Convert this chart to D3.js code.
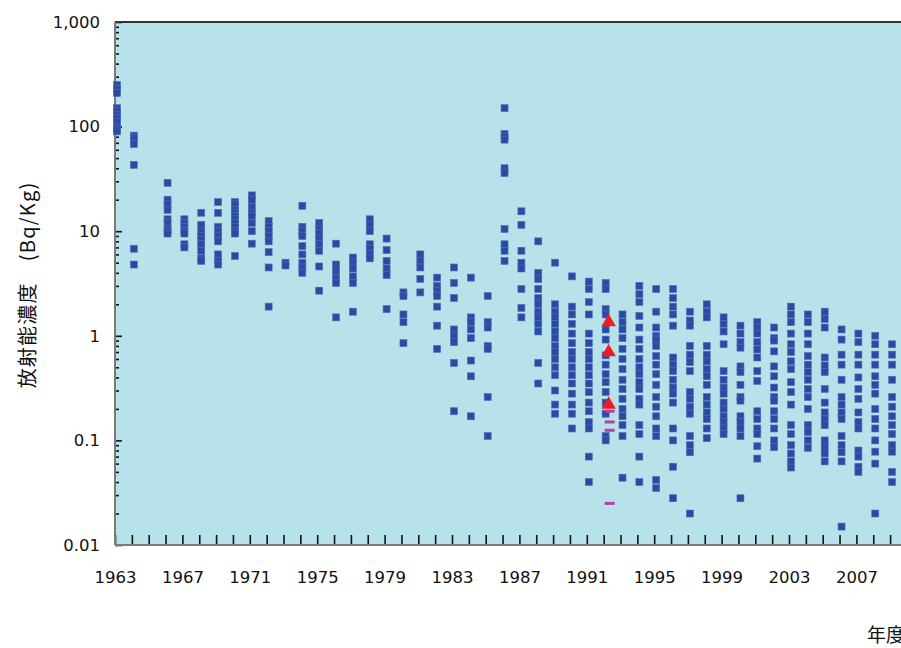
<!DOCTYPE html>
<html>
<head>
<meta charset="utf-8">
<script src="https://cdn.jsdelivr.net/npm/d3@7"></script>
<style>
	body { margin: 0; background: #fff; }
	svg { display: block; }
</style>
</head>
<body>
<div id="chart"></div>
<script>
// sampled years (1965 has no samples)
var years = [1963, 1964, 1966, 1967, 1968, 1969, 1970, 1971, 1972, 1973, 1974, 1975, 1976,
	1977, 1978, 1979, 1980, 1981, 1982, 1983, 1984, 1985, 1986, 1987, 1988, 1989, 1990,
	1991, 1992, 1993, 1994, 1995, 1996, 1997, 1998, 1999, 2000, 2001, 2002, 2003, 2004,
	2005, 2006, 2007, 2008, 2009];

// measured values (Bq/kg) per year, same order as years
var samples = [
	[250, 230, 210, 150, 140, 130, 120, 110, 100, 95, 90],
	[82, 78, 68, 43, 6.8, 4.8],
	[29, 20, 18, 16, 13, 12, 10.5, 10, 9.5],
	[13, 12, 11, 10, 9.5, 7.5, 7.0],
	[15, 11.5, 10, 9, 8.3, 7.5, 6.5, 5.5, 5.2],
	[19, 15, 11, 10, 9, 8, 6, 5.2, 4.8],
	[19, 18, 16, 15, 14, 13, 12, 11, 10, 9.5, 5.8],
	[22, 20, 17, 15, 14, 12, 10, 7.6],
	[12.5, 11, 10, 9, 8, 6.3, 4.5, 1.9],
	[5, 4.7],
	[17.5, 11, 10, 9, 7.2, 6, 5, 4.5, 4],
	[12, 10.5, 9.5, 8.5, 7.5, 6.5, 4.6, 2.7],
	[7.6, 4.8, 4.2, 3.6, 3.2, 1.5],
	[5.6, 5, 4.4, 3.7, 3.2, 1.7],
	[13, 11.5, 10, 7.5, 6.8, 6, 5.5],
	[8.5, 6.6, 5.2, 4.4, 3.8, 1.8],
	[2.6, 2.4, 1.6, 1.35, 0.85],
	[6, 5.2, 4.5, 3.5, 2.6],
	[3.6, 3.0, 2.7, 2.4, 1.9, 1.25, 0.75],
	[4.5, 3.2, 2.3, 1.15, 1.0, 0.87, 0.55, 0.19],
	[3.6, 1.5, 1.35, 1.15, 0.95, 0.58, 0.41, 0.17],
	[2.4, 1.35, 1.2, 0.8, 0.75, 0.26, 0.11],
	[150, 85, 80, 75, 40, 36, 10.5, 7.5, 6.5, 5.2],
	[15.5, 11.5, 6.5, 5, 4.4, 2.8, 1.85, 1.5],
	[8, 4, 3.5, 2.8, 2.3, 2.0, 1.7, 1.5, 1.3, 1.1, 0.55, 0.35],
	[5.0, 2.0, 1.7, 1.5, 1.3, 1.1, 0.95, 0.8, 0.7, 0.6, 0.5, 0.42, 0.3, 0.22, 0.18],
	[3.7, 1.9, 1.6, 1.3, 1.05, 0.85, 0.7, 0.6, 0.5, 0.42, 0.35, 0.28, 0.22, 0.18, 0.13],
	[3.3, 2.8, 2.1, 1.6, 1.05, 0.85, 0.7, 0.6, 0.5, 0.42, 0.35, 0.29, 0.23, 0.19, 0.15, 0.13, 0.07, 0.04],
	[3.2, 2.8, 1.8, 1.6, 1.15, 0.92, 0.65, 0.53, 0.43, 0.36, 0.29, 0.23, 0.18, 0.11, 0.1],
	[1.6, 1.35, 1.15, 0.95, 0.75, 0.6, 0.48, 0.38, 0.31, 0.25, 0.2, 0.17, 0.14, 0.11, 0.044],
	[3.0, 2.5, 2.1, 1.55, 1.2, 0.92, 0.75, 0.6, 0.5, 0.43, 0.36, 0.31, 0.25, 0.22, 0.14, 0.115, 0.07, 0.04],
	[2.8, 1.7, 1.2, 1.0, 0.92, 0.8, 0.64, 0.53, 0.43, 0.34, 0.26, 0.21, 0.17, 0.13, 0.11, 0.042, 0.035],
	[2.8, 2.3, 1.9, 1.6, 1.25, 0.62, 0.53, 0.46, 0.38, 0.32, 0.28, 0.23, 0.13, 0.1, 0.056, 0.028],
	[1.7, 1.4, 1.25, 0.8, 0.66, 0.56, 0.46, 0.29, 0.25, 0.21, 0.18, 0.11, 0.09, 0.077, 0.02],
	[2.0, 1.7, 1.5, 0.8, 0.66, 0.57, 0.48, 0.41, 0.34, 0.26, 0.22, 0.185, 0.16, 0.13, 0.105],
	[1.5, 1.3, 1.1, 0.83, 0.46, 0.38, 0.32, 0.28, 0.23, 0.2, 0.17, 0.15, 0.13, 0.115],
	[1.25, 1.05, 0.87, 0.77, 0.51, 0.45, 0.34, 0.26, 0.24, 0.17, 0.15, 0.13, 0.11, 0.028],
	[1.35, 1.2, 1.05, 0.87, 0.74, 0.62, 0.46, 0.37, 0.19, 0.16, 0.13, 0.115, 0.088, 0.067],
	[1.2, 0.95, 0.9, 0.71, 0.51, 0.41, 0.32, 0.26, 0.24, 0.19, 0.16, 0.13, 0.1, 0.086],
	[1.9, 1.6, 1.35, 1.05, 0.83, 0.7, 0.57, 0.48, 0.36, 0.29, 0.22, 0.14, 0.115, 0.09, 0.075, 0.063, 0.055],
	[1.6, 1.35, 1.05, 0.83, 0.64, 0.53, 0.45, 0.38, 0.31, 0.26, 0.2, 0.14, 0.12, 0.1, 0.085],
	[1.7, 1.45, 1.2, 0.62, 0.52, 0.45, 0.31, 0.23, 0.185, 0.16, 0.14, 0.1, 0.087, 0.075, 0.063],
	[1.15, 0.92, 0.66, 0.53, 0.38, 0.26, 0.22, 0.185, 0.16, 0.11, 0.09, 0.077, 0.063, 0.015],
	[1.05, 0.87, 0.66, 0.53, 0.4, 0.31, 0.25, 0.185, 0.15, 0.13, 0.08, 0.07, 0.056, 0.05],
	[1.0, 0.83, 0.66, 0.53, 0.41, 0.34, 0.28, 0.2, 0.16, 0.13, 0.1, 0.078, 0.06, 0.02],
	[0.83, 0.66, 0.53, 0.38, 0.26, 0.21, 0.17, 0.14, 0.115, 0.09, 0.078, 0.05, 0.04]
];

// 1992 special samples
var specialYear = 1992;
var triangleValues = [1.35, 0.7, 0.22];
var dashValues = [0.19, 0.15, 0.125, 0.025];

var yTicks = [0.01, 0.1, 1, 10, 100, 1000];
var yTickLabels = ["0.01", "0.1", "1", "10", "100", "1,000"];
var xLabelYears = [1963, 1967, 1971, 1975, 1979, 1983, 1987, 1991, 1995, 1999, 2003, 2007];

function init() {
	var w = 901;
	var h = 648;
	var left = 115, top = 22, bottom = 545;

	var svg = d3.select("#chart")
		.append("svg")
		.attr("width", w)
		.attr("height", h);

	var xScale = d3.scaleLinear()
		.domain([1963, 2010])
		.range([left, left + 47 * 16.85]);

	var yScale = d3.scaleLog()
		.domain([0.01, 1000])
		.range([bottom, top]);

	svg.append("rect")
		.attr("x", left)
		.attr("y", top)
		.attr("width", w - left)
		.attr("height", bottom - top)
		.attr("fill", "#b7e2e9");

	var font = "'DejaVu Sans', sans-serif";

	// x axis: a tick every year, label every 4 years
	var allYears = d3.range(1963, 2011);
	svg.append("g")
		.attr("transform", `translate(0,${bottom})`)
		.call(d3.axisBottom(xScale)
			.tickValues(allYears)
			.tickSize(-10)
			.tickPadding(26)
			.tickFormat(d => xLabelYears.indexOf(d) >= 0 ? d : ""))
		.call(g => g.select(".domain").remove())
		.call(g => g.selectAll(".tick line").attr("stroke", "#111").attr("stroke-width", 1.6))
		.call(g => g.selectAll("text").attr("font-family", font).attr("font-size", 16.5).attr("fill", "#111"));

	// minor y ticks
	var minors = [];
	yTicks.slice(0, -1).forEach(function(t) {
		for (var k = 2; k <= 9; k++) minors.push(t * k);
	});
	svg.append("g")
		.attr("transform", `translate(${left},0)`)
		.call(d3.axisLeft(yScale).tickValues(minors).tickSize(-4).tickFormat(""))
		.call(g => g.select(".domain").remove())
		.call(g => g.selectAll(".tick line").attr("stroke", "#111").attr("stroke-width", 1.6));

	// major y ticks
	svg.append("g")
		.attr("transform", `translate(${left},0)`)
		.call(d3.axisLeft(yScale)
			.tickValues(yTicks)
			.tickSize(-7)
			.tickPadding(15)
			.tickFormat((d, i) => yTickLabels[i]))
		.call(g => g.select(".domain").remove())
		.call(g => g.selectAll(".tick line").attr("stroke", "#111").attr("stroke-width", 1.6))
		.call(g => g.selectAll("text").attr("font-family", font).attr("font-size", 16.5).attr("fill", "#111"));

	// frame lines
	svg.append("line")
		.attr("x1", left).attr("x2", w).attr("y1", top).attr("y2", top)
		.attr("stroke", "#333").attr("stroke-width", 2);
	svg.append("line")
		.attr("x1", left).attr("x2", left).attr("y1", top).attr("y2", bottom)
		.attr("stroke", "#7a7a7a").attr("stroke-width", 2);
	svg.append("line")
		.attr("x1", left).attr("x2", w).attr("y1", bottom).attr("y2", bottom)
		.attr("stroke", "#7a7a7a").attr("stroke-width", 2);

	// blue squares
	var points = [];
	years.forEach(function(yr, i) {
		samples[i].forEach(function(v) { points.push({ year: yr, value: v }); });
	});

	var s = 7;
	svg.append("g")
		.selectAll("rect")
		.data(points)
		.join("rect")
			.attr("x", d => xScale(d.year) + 2 - s / 2)
			.attr("y", d => yScale(d.value) - s / 2)
			.attr("width", s)
			.attr("height", s)
			.attr("fill", "#2b4aa1")
			.attr("stroke", "#4f6fc0")
			.attr("stroke-width", 0.6);

	// magenta dashes
	svg.append("g")
		.selectAll("rect")
		.data(dashValues)
		.join("rect")
			.attr("x", xScale(specialYear) + 1)
			.attr("y", d => yScale(d) - 1.5)
			.attr("width", 10)
			.attr("height", 3)
			.attr("fill", "#b8409e");

	// red triangles
	svg.append("g")
		.selectAll("path")
		.data(triangleValues)
		.join("path")
			.attr("transform", d => `translate(${xScale(specialYear) + 5},${yScale(d)})`)
			.attr("d", d3.symbol().type(d3.symbolTriangle).size(90))
			.attr("fill", "#ee1c25");

	// axis titles
	svg.append("text")
		.attr("transform", "translate(35,285) rotate(-90)")
		.attr("text-anchor", "middle")
		.attr("font-family", "'Noto Sans CJK JP', sans-serif")
		.attr("font-size", 20)
		.attr("letter-spacing", 1.2)
		.attr("fill", "#111")
		.text("放射能濃度　(Bq/Kg)");

	svg.append("text")
		.attr("x", 867)
		.attr("y", 642)
		.attr("font-family", "'Noto Sans CJK JP', sans-serif")
		.attr("font-size", 19)
		.attr("fill", "#111")
		.text("年度");
}

window.onload = init;
</script>
</body>
</html>
